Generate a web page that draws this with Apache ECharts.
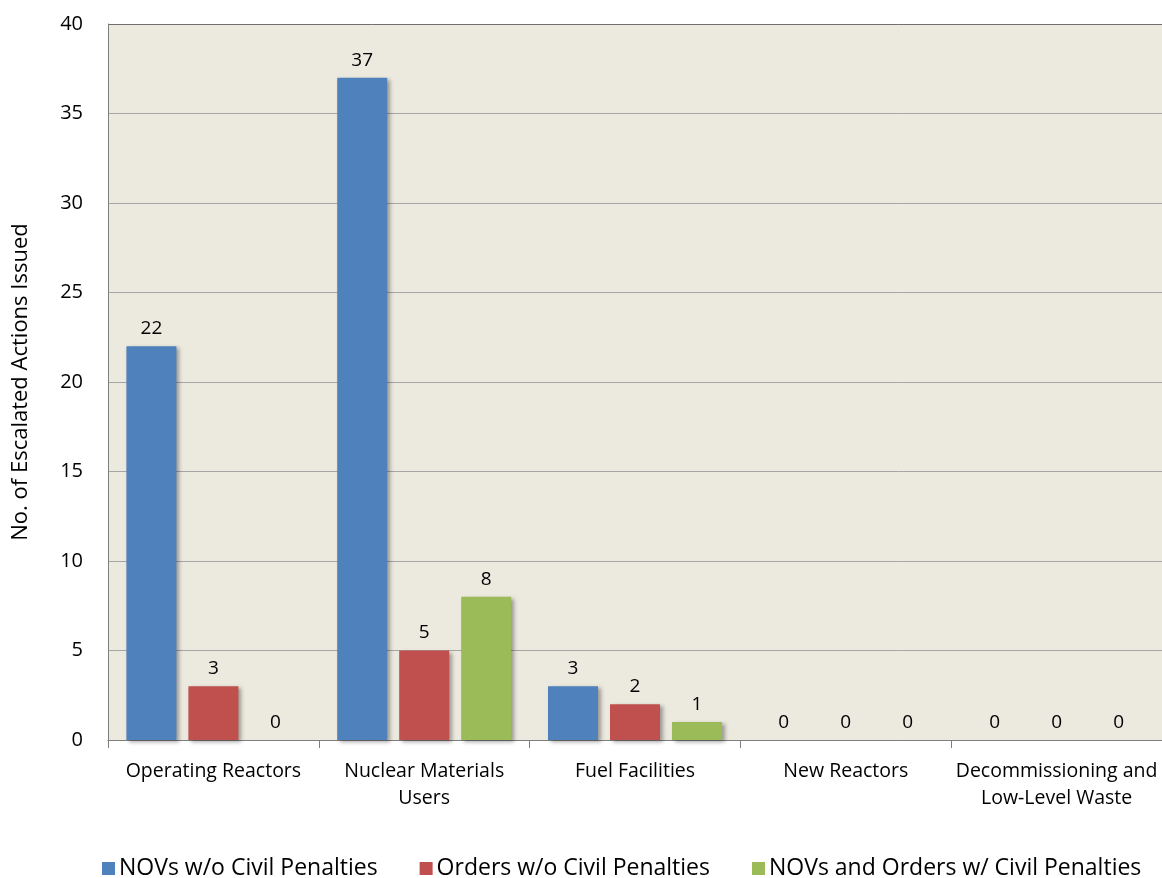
<!DOCTYPE html>
<html><head><meta charset="utf-8">
<script src="https://cdn.jsdelivr.net/npm/echarts@6/dist/echarts.min.js"></script>
<style>html,body{margin:0;padding:0;background:#fff}#c{width:1162px;height:878px}</style>
</head><body><div id="c"></div>
<script>
const categories = ['Operating Reactors', 'Nuclear Materials\nUsers', 'Fuel Facilities', 'New Reactors', 'Decommissioning and\nLow-Level Waste'];
const seriesNames = ['NOVs w/o Civil Penalties', 'Orders w/o Civil Penalties', 'NOVs and Orders w/ Civil Penalties'];
const novsNoPenalty = [22, 37, 3, 0, 0];
const ordersNoPenalty = [3, 5, 2, 0, 0];
const withPenalty = [0, 8, 1, 0, 0];
const yTicks = [0, 5, 10, 15, 20, 25, 30, 35, 40];
const colors = ['#4F81BD', '#C0504D', '#9BBB59'];
const FONT = '"Open Sans", "Noto Sans", sans-serif';
const chart = echarts.init(document.getElementById('c'));
const data = [novsNoPenalty, ordersNoPenalty, withPenalty];
chart.setOption({
  animation: false,
  grid: { left: 108, top: 24, right: 0, bottom: 138, show: true, backgroundColor: '#ECE9DF', borderColor: 'transparent' },
  legend: {
    left: 97, top: 852, itemWidth: 13, itemHeight: 13, itemGap: 42,
    icon: 'rect',
    textStyle: { fontFamily: FONT, fontSize: 23, color: '#000', padding: [0, 0, 0, -1] },
    data: seriesNames
  },
  xAxis: {
    type: 'category', data: categories,
    axisLine: { lineStyle: { color: '#7F7F7F', width: 1 } },
    axisTick: { show: true, length: 8, lineStyle: { color: '#7F7F7F' } },
    axisLabel: { fontFamily: FONT, fontSize: 19.5, color: '#000', margin: 18, lineHeight: 27, interval: 0 }
  },
  yAxis: {
    type: 'value', min: 0, max: 40, interval: 5,
    name: 'No. of Escalated Actions Issued', nameLocation: 'middle', nameGap: 76,
    nameTextStyle: { fontFamily: FONT, fontSize: 22, color: '#000' },
    axisLine: { show: true, lineStyle: { color: '#7F7F7F' } },
    axisTick: { show: false },
    axisLabel: { fontFamily: FONT, fontSize: 20, color: '#000', margin: 25,
      formatter: v => yTicks.includes(v) ? String(v) : '' },
    splitLine: { lineStyle: { color: '#A6A6A6', width: 1 } }
  },
  series: seriesNames.map((n, i) => ({
    name: n, type: 'bar', data: data[i], barWidth: 50, barGap: '24%',
    itemStyle: { color: colors[i], shadowColor: 'rgba(0,0,0,0.35)', shadowBlur: 4, shadowOffsetX: 3, shadowOffsetY: 2 },
    label: { show: true, position: 'top', distance: 8, fontFamily: FONT, fontSize: 19, color: '#000' }
  }))
});
chart.setOption({
  graphic: [{ type: 'line', shape: { x1: 108, y1: 24.5, x2: 1162, y2: 24.5 }, style: { stroke: '#6F6F6F', lineWidth: 1 } }]
});
</script></body></html>
